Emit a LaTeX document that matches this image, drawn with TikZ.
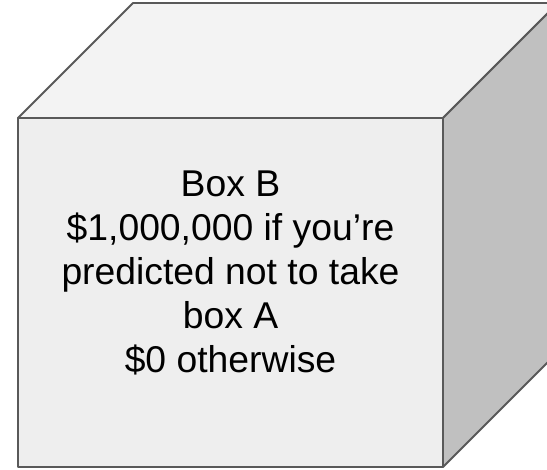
\documentclass[tikz,border=0pt]{standalone}
\usepackage{fontspec}
\setmainfont{Liberation Sans}
\definecolor{frontcol}{HTML}{EEEEEE}
\definecolor{topcol}{HTML}{F3F3F3}
\definecolor{sidecol}{HTML}{C0C0C0}
\definecolor{edgecol}{HTML}{595959}

\begin{document}
\begin{tikzpicture}[
  x=1pt, y=-1pt,
  face/.style={draw=edgecol, line width=1.8pt, line join=round},
  boxtext/.style={align=center, inner sep=0pt,
                  font=\fontsize{37.3}{44}\selectfont},
]
\useasboundingbox (0,0) rectangle (547,470);
\clip (0,0) rectangle (547,470);

% ------------------------------------------------------------- corners
\coordinate (ftl) at (18,118);
\coordinate (ftr) at (443,118);
\coordinate (fbr) at (443,467);
\coordinate (fbl) at (18,467);
\coordinate (btl) at (133,3);
\coordinate (btr) at (558,3);
\coordinate (bbr) at (558,352);

% ------------------------------------------------------------- faces
\draw[face, fill=topcol]   (ftl) -- (btl) -- (btr) -- (ftr) -- cycle;
\draw[face, fill=sidecol]  (ftr) -- (btr) -- (bbr) -- (fbr) -- cycle;
\draw[face, fill=frontcol] (ftl) -- (ftr) -- (fbr) -- (fbl) -- cycle;

% ------------------------------------------------------------- text
\node[boxtext] (boxb) at (230.5,272.5)
  {Box B\\ \$1,000,000 if you’re\\ predicted not to take\\ box A\\ \$0 otherwise};

\end{tikzpicture}
\end{document}
